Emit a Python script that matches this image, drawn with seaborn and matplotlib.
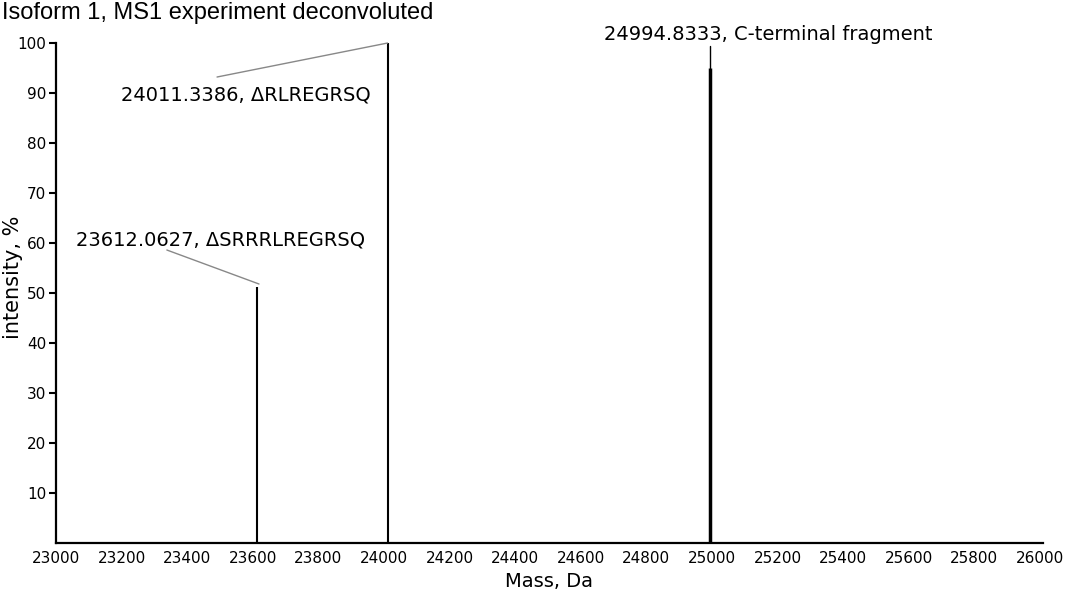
import matplotlib
matplotlib.use("Agg")
import matplotlib.pyplot as plt
import seaborn as sns
import pandas as pd

masas = [23612.0627, 24011.3386, 24994.8333]
intensidades = [51.3, 100.0, 95.0]
grosores = [1.5, 1.5, 2.5]
etiquetas = ["23612.0627, \u0394SRRRLREGRSQ",
             "24011.3386, \u0394RLREGRSQ",
             "24994.8333, C-terminal fragment"]
pos_texto = [(23501, 60.6), (23579, 89.6), (25171, 101.8)]
inicio_guia = [(23338, 58.6), (23491, 93.2), (24995, 99.5)]
fin_guia = [(23619, 51.8), (24011, 100.0), (24995, 95.0)]
color_guia = ["#888888", "#888888", "black"]

x_ticks = list(range(23000, 26001, 200))
y_ticks = list(range(10, 101, 10))

df = pd.DataFrame({"masa": masas, "intensidad": intensidades, "lw": grosores})

sns.set_style("ticks")
plt.rcParams["font.family"] = ["DejaVu Sans"]
for k in ["text.color", "axes.labelcolor", "xtick.color", "ytick.color"]:
    plt.rcParams[k] = "black"

fig = plt.figure(figsize=(10.65, 5.95), dpi=100)
ax = fig.add_axes([0.0526, 0.0874, 0.9265, 0.8403])

# picos como líneas verticales
for _, fila in df.iterrows():
    ax.vlines(fila["masa"], 0, fila["intensidad"], color="black", lw=fila["lw"])

# etiquetas con líneas guía
for txt, (tx, ty), (x0, y0), (x1, y1), c in zip(etiquetas, pos_texto, inicio_guia, fin_guia, color_guia):
    ax.text(tx, ty, txt, ha="center", va="center", fontsize=14, clip_on=False)
    ax.plot([x0, x1], [y0, y1], color=c, lw=1.0, clip_on=False)

ax.set_xlim(23000, 26009)
ax.set_ylim(0, 100)
ax.set_xticks(x_ticks)
ax.set_xticklabels([str(t) for t in x_ticks])
ax.set_yticks(y_ticks)
ax.tick_params(axis="x", length=0, pad=6, labelsize=11)
ax.tick_params(axis="y", length=5, width=1.5, pad=2, labelsize=11)
ax.set_xlabel("Mass, Da", fontsize=14, labelpad=4)
ax.set_ylabel("intensity, %", fontsize=15)
ax.yaxis.set_label_coords(-0.033, 0.532)

sns.despine(ax=ax)
for s in ["left", "bottom"]:
    ax.spines[s].set_linewidth(1.6)
    ax.spines[s].set_color("black")

fig.text(0.002, 0.997, "Isoform 1, MS1 experiment deconvoluted", ha="left", va="top",
         fontsize=17, family=["Liberation Sans"])

fig.savefig("out.png", dpi=100)
plt.close(fig)
